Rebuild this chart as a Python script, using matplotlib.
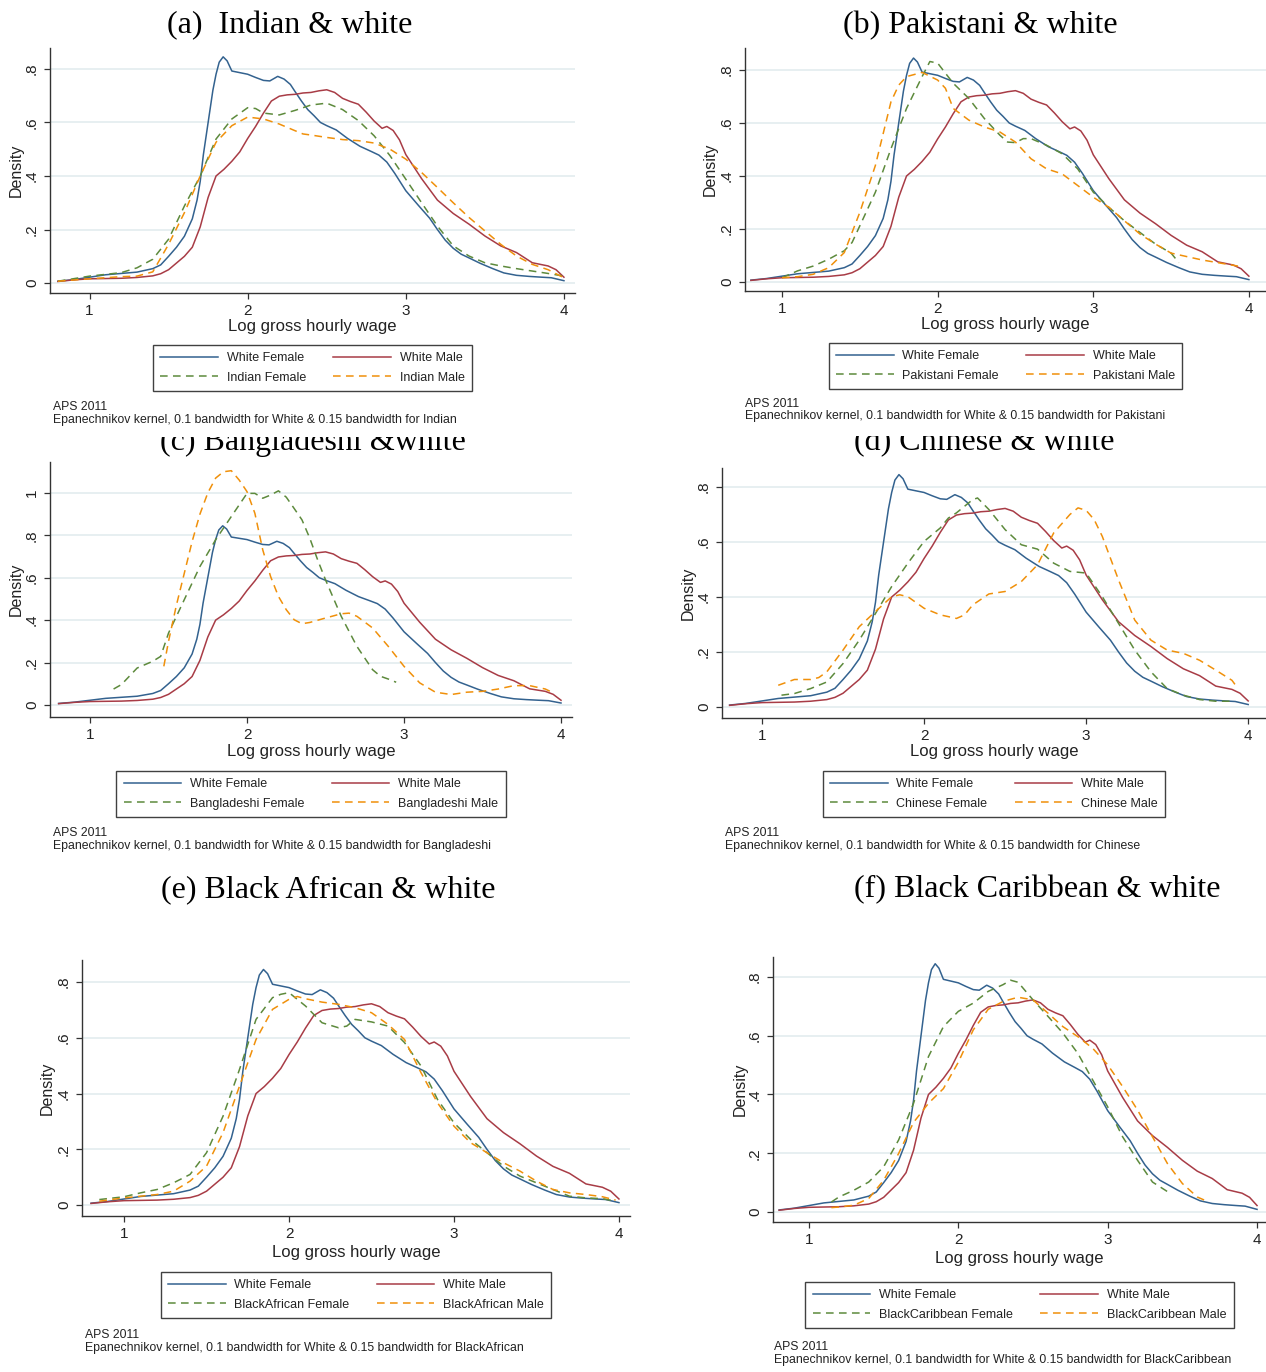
import matplotlib
matplotlib.use("Agg")
import matplotlib.pyplot as plt
from matplotlib.transforms import Bbox, TransformedBbox

W, H = 1266, 1372
plt.rcParams['font.family'] = 'Liberation Sans'

# ---- shared white curves ----
wf_x = [0.80, 0.90, 1.00, 1.10, 1.20, 1.30, 1.40, 1.45, 1.50, 1.55, 1.60, 1.65, 1.68, 1.70, 1.72,
        1.74, 1.76, 1.78, 1.80, 1.82, 1.845, 1.87, 1.90, 1.95, 2.00, 2.05, 2.10, 2.14, 2.19, 2.23,
        2.27, 2.30, 2.34, 2.38, 2.42, 2.46, 2.50, 2.56, 2.63, 2.71, 2.78, 2.83, 2.88, 2.93, 3.00,
        3.08, 3.15, 3.20, 3.25, 3.30, 3.35, 3.40, 3.47, 3.55, 3.62, 3.70, 3.78, 3.86, 3.92, 4.00]
wf_y = [0.007, 0.013, 0.022, 0.031, 0.036, 0.041, 0.054, 0.068, 0.10, 0.134, 0.175, 0.24, 0.31, 0.38, 0.48,
        0.56, 0.64, 0.72, 0.78, 0.825, 0.845, 0.83, 0.792, 0.786, 0.78, 0.768, 0.757, 0.755, 0.772, 0.762,
        0.742, 0.715, 0.68, 0.648, 0.625, 0.60, 0.588, 0.572, 0.541, 0.511, 0.492, 0.478, 0.452, 0.41, 0.345,
        0.29, 0.243, 0.20, 0.16, 0.13, 0.108, 0.094, 0.074, 0.054, 0.038, 0.029, 0.025, 0.022, 0.02, 0.009]

wm_x = [0.80, 0.90, 1.00, 1.10, 1.20, 1.30, 1.40, 1.45, 1.50, 1.55, 1.60, 1.65, 1.70, 1.75, 1.80,
        1.85, 1.90, 1.95, 2.00, 2.05, 2.10, 2.15, 2.20, 2.25, 2.30, 2.35, 2.40, 2.45, 2.50, 2.55,
        2.60, 2.65, 2.70, 2.75, 2.80, 2.85, 2.88, 2.92, 2.96, 3.00, 3.05, 3.10, 3.20, 3.30, 3.40,
        3.50, 3.60, 3.70, 3.75, 3.80, 3.90, 3.95, 4.00]
wm_y = [0.006, 0.012, 0.016, 0.017, 0.018, 0.021, 0.027, 0.035, 0.05, 0.075, 0.10, 0.134, 0.21, 0.32, 0.40,
        0.425, 0.455, 0.49, 0.54, 0.585, 0.635, 0.68, 0.698, 0.703, 0.705, 0.71, 0.712, 0.718, 0.722, 0.712,
        0.69, 0.678, 0.668, 0.638, 0.605, 0.578, 0.585, 0.57, 0.535, 0.48, 0.435, 0.39, 0.31, 0.26, 0.22,
        0.176, 0.139, 0.114, 0.095, 0.076, 0.064, 0.05, 0.022]

# ---- ethnic group curves ----
ind_f_x = [0.8, 1.0, 1.2, 1.3, 1.4, 1.5, 1.6, 1.7, 1.8, 1.9, 2.0, 2.05, 2.1, 2.2, 2.3, 2.4, 2.5, 2.6,
           2.7, 2.8, 2.9, 3.0, 3.1, 3.2, 3.3, 3.4, 3.5, 3.6, 3.7, 3.8, 3.9, 4.0]
ind_f_y = [0.007, 0.026, 0.039, 0.057, 0.089, 0.164, 0.288, 0.40, 0.538, 0.613, 0.655, 0.652, 0.635, 0.628,
           0.645, 0.665, 0.672, 0.648, 0.607, 0.55, 0.476, 0.388, 0.30, 0.213, 0.139, 0.101, 0.076, 0.064,
           0.054, 0.045, 0.036, 0.026]
ind_m_x = [0.8, 1.0, 1.2, 1.3, 1.4, 1.5, 1.6, 1.7, 1.8, 1.9, 2.0, 2.1, 2.2, 2.3, 2.35, 2.4, 2.5, 2.6,
           2.7, 2.8, 2.9, 3.0, 3.1, 3.2, 3.3, 3.4, 3.5, 3.6, 3.7, 3.8, 3.9, 4.0]
ind_m_y = [0.007, 0.016, 0.024, 0.026, 0.042, 0.145, 0.263, 0.40, 0.526, 0.588, 0.62, 0.613, 0.594, 0.569,
           0.557, 0.553, 0.544, 0.536, 0.532, 0.523, 0.50, 0.463, 0.413, 0.357, 0.30, 0.245, 0.195, 0.145,
           0.101, 0.07, 0.05, 0.02]

pak_f_x = [1.0, 1.1, 1.2, 1.3, 1.4, 1.45, 1.5, 1.6, 1.7, 1.8, 1.9, 1.95, 2.0, 2.1, 2.2, 2.3, 2.4, 2.45,
           2.5, 2.55, 2.6, 2.7, 2.8, 2.9, 3.0, 3.1, 3.2, 3.3, 3.4, 3.5, 3.55]
pak_f_y = [0.016, 0.042, 0.06, 0.086, 0.118, 0.149, 0.212, 0.339, 0.503, 0.655, 0.775, 0.832, 0.826, 0.75,
           0.693, 0.617, 0.554, 0.528, 0.526, 0.541, 0.541, 0.516, 0.484, 0.427, 0.339, 0.282, 0.231, 0.187,
           0.143, 0.109, 0.073]
pak_m_x = [1.0, 1.1, 1.2, 1.3, 1.4, 1.5, 1.6, 1.7, 1.75, 1.8, 1.9, 2.0, 2.05, 2.1, 2.2, 2.3, 2.4, 2.5,
           2.6, 2.7, 2.8, 2.9, 3.0, 3.1, 3.2, 3.3, 3.4, 3.5, 3.6, 3.7, 3.8, 3.9, 3.93]
pak_m_y = [0.016, 0.02, 0.029, 0.054, 0.111, 0.263, 0.44, 0.68, 0.743, 0.775, 0.791, 0.762, 0.731, 0.655,
           0.611, 0.585, 0.566, 0.528, 0.465, 0.427, 0.408, 0.364, 0.32, 0.282, 0.231, 0.181, 0.143, 0.109,
           0.096, 0.083, 0.073, 0.063, 0.06]

ban_f_x = [1.15, 1.2, 1.3, 1.4, 1.45, 1.5, 1.6, 1.7, 1.8, 1.9, 2.0, 2.05, 2.1, 2.15, 2.2, 2.25, 2.3,
           2.35, 2.4, 2.45, 2.5, 2.6, 2.7, 2.8, 2.85, 2.9, 2.95]
ban_f_y = [0.075, 0.096, 0.174, 0.206, 0.229, 0.339, 0.496, 0.653, 0.779, 0.889, 0.998, 0.998, 0.975, 0.99,
           1.01, 0.98, 0.927, 0.873, 0.786, 0.684, 0.59, 0.418, 0.276, 0.166, 0.135, 0.122, 0.107]
ban_m_x = [1.47, 1.5, 1.55, 1.6, 1.65, 1.7, 1.75, 1.8, 1.85, 1.9, 1.95, 2.0, 2.05, 2.1, 2.15, 2.2, 2.25,
           2.3, 2.35, 2.4, 2.5, 2.6, 2.65, 2.7, 2.8, 2.9, 3.0, 3.1, 3.2, 3.3, 3.4, 3.5, 3.6, 3.7, 3.8, 3.9, 3.95]
ban_m_y = [0.182, 0.30, 0.47, 0.62, 0.77, 0.90, 1.0, 1.07, 1.1, 1.105, 1.061, 1.006, 0.904, 0.732, 0.606,
           0.512, 0.449, 0.402, 0.383, 0.389, 0.41, 0.43, 0.433, 0.418, 0.363, 0.276, 0.182, 0.104, 0.06,
           0.049, 0.06, 0.064, 0.075, 0.091, 0.091, 0.075, 0.057]

chi_f_x = [1.12, 1.2, 1.3, 1.4, 1.5, 1.6, 1.7, 1.8, 1.9, 2.0, 2.1, 2.15, 2.2, 2.3, 2.33, 2.4, 2.5, 2.6,
           2.7, 2.8, 2.9, 3.0, 3.1, 3.2, 3.3, 3.4, 3.5, 3.6, 3.7, 3.8, 3.9]
chi_f_y = [0.043, 0.049, 0.067, 0.091, 0.158, 0.243, 0.34, 0.438, 0.523, 0.602, 0.651, 0.687, 0.706, 0.754,
           0.76, 0.718, 0.645, 0.59, 0.574, 0.523, 0.493, 0.487, 0.401, 0.304, 0.207, 0.128, 0.067, 0.043,
           0.027, 0.021, 0.021]
chi_m_x = [1.1, 1.2, 1.3, 1.35, 1.4, 1.5, 1.6, 1.7, 1.8, 1.85, 1.9, 2.0, 2.1, 2.2, 2.25, 2.3, 2.4, 2.5,
           2.6, 2.7, 2.8, 2.9, 2.95, 3.0, 3.05, 3.1, 3.2, 3.3, 3.4, 3.5, 3.6, 3.7, 3.8, 3.9, 3.93]
chi_m_y = [0.079, 0.1, 0.1, 0.107, 0.128, 0.207, 0.292, 0.347, 0.401, 0.408, 0.401, 0.359, 0.335, 0.322,
           0.335, 0.371, 0.411, 0.42, 0.456, 0.517, 0.633, 0.70, 0.724, 0.715, 0.681, 0.62, 0.462, 0.316,
           0.243, 0.207, 0.195, 0.17, 0.134, 0.097, 0.073]

ba_f_x = [0.85, 1.0, 1.1, 1.2, 1.3, 1.4, 1.5, 1.6, 1.7, 1.8, 1.9, 1.95, 2.0, 2.1, 2.2, 2.3, 2.35, 2.4,
          2.5, 2.6, 2.7, 2.8, 2.9, 3.0, 3.1, 3.2, 3.3, 3.4, 3.5, 3.6, 3.7, 3.8, 3.9, 3.98]
ba_f_y = [0.02, 0.03, 0.044, 0.056, 0.08, 0.11, 0.188, 0.319, 0.487, 0.666, 0.744, 0.756, 0.762, 0.714,
          0.654, 0.636, 0.642, 0.666, 0.657, 0.642, 0.583, 0.499, 0.379, 0.295, 0.236, 0.188, 0.14, 0.104,
          0.08, 0.056, 0.032, 0.026, 0.023, 0.014]
ba_m_x = [0.85, 1.0, 1.2, 1.3, 1.4, 1.5, 1.6, 1.7, 1.8, 1.9, 2.0, 2.05, 2.1, 2.2, 2.3, 2.4, 2.5, 2.6,
          2.7, 2.8, 2.9, 3.0, 3.1, 3.2, 3.3, 3.4, 3.5, 3.6, 3.7, 3.8, 3.9, 3.98]
ba_m_y = [0.014, 0.026, 0.038, 0.05, 0.086, 0.14, 0.26, 0.427, 0.594, 0.702, 0.738, 0.748, 0.74, 0.728,
          0.72, 0.708, 0.69, 0.648, 0.594, 0.475, 0.367, 0.283, 0.224, 0.188, 0.152, 0.122, 0.086, 0.056,
          0.044, 0.038, 0.03, 0.018]

bc_f_x = [1.15, 1.2, 1.3, 1.4, 1.5, 1.6, 1.7, 1.8, 1.9, 2.0, 2.1, 2.2, 2.3, 2.35, 2.4, 2.5, 2.6, 2.7,
          2.8, 2.9, 3.0, 3.1, 3.2, 3.3, 3.42]
bc_f_y = [0.034, 0.051, 0.074, 0.102, 0.154, 0.245, 0.37, 0.529, 0.631, 0.683, 0.711, 0.751, 0.774, 0.789,
          0.782, 0.722, 0.666, 0.609, 0.54, 0.449, 0.358, 0.256, 0.176, 0.102, 0.063]
bc_m_x = [1.15, 1.2, 1.3, 1.4, 1.5, 1.6, 1.7, 1.8, 1.9, 2.0, 2.1, 2.2, 2.3, 2.4, 2.5, 2.6, 2.7, 2.8,
          2.9, 3.0, 3.1, 3.2, 3.3, 3.4, 3.5, 3.6, 3.65]
bc_m_y = [0.015, 0.017, 0.023, 0.046, 0.108, 0.199, 0.305, 0.37, 0.42, 0.51, 0.62, 0.69, 0.717, 0.731,
          0.722, 0.677, 0.631, 0.597, 0.557, 0.501, 0.427, 0.347, 0.256, 0.165, 0.097, 0.051, 0.04]

groups = ["Indian", "Pakistani", "Bangladeshi", "Chinese", "BlackAfrican", "BlackCaribbean"]
titles = ["(a)  Indian & white", "(b) Pakistani & white", "(c) Bangladeshi &white",
          "(d) Chinese & white", "(e) Black African & white", "(f) Black Caribbean & white"]
female_x = [ind_f_x, pak_f_x, ban_f_x, chi_f_x, ba_f_x, bc_f_x]
female_y = [ind_f_y, pak_f_y, ban_f_y, chi_f_y, ba_f_y, bc_f_y]
male_x = [ind_m_x, pak_m_x, ban_m_x, chi_m_x, ba_m_x, bc_m_x]
male_y = [ind_m_y, pak_m_y, ban_m_y, chi_m_y, ba_m_y, bc_m_y]
ytick_vals = [[0, .2, .4, .6, .8]] * 2 + [[0, .2, .4, .6, .8, 1]] + [[0, .2, .4, .6, .8]] * 3
ytick_text = [["0", ".2", ".4", ".6", ".8"]] * 2 + [["0", ".2", ".4", ".6", ".8", "1"]] + \
             [["0", ".2", ".4", ".6", ".8"]] * 3

# ---- layout (pixels) ----
boxes = [(50, 48, 575, 293), (745, 48, 1266, 291), (50, 462, 572, 717),
         (722, 468, 1266, 718), (82, 960, 630, 1216), (773, 957, 1266, 1222)]
xlims = [(0.75, 4.07), (0.762, 4.11), (0.745, 4.07), (0.753, 4.11), (0.745, 4.067), (0.759, 4.06)]
ylims = [(-0.037, 0.878), (-0.034, 0.883), (-0.057, 1.146), (-0.04, 0.869), (-0.039, 0.879), (-0.034, 0.868)]
# title baseline positions
title_pos = [(290, 33), (980, 33), (313, 450), (984, 450), (328, 897), (1037, 897)]
title_clip = [None, None, 437, 436, None, None]
ylab_x = [16, 710, 16, 688, 47, 740]
xlab_y = [327, 325, 751, 751, 1252, 1259]
leg_y = [368, 366, 794, 794, 1295, 1305]
note_pos = [(53, 407), (745, 404), (53, 833), (725, 833), (85, 1335), (774, 1347)]

c_wf, c_wm, c_ef, c_em = '#33628f', '#a83c46', '#5d8a3c', '#f0900a'

fig = plt.figure(figsize=(W / 100, H / 100), dpi=100)

for i in range(6):
    l, t, r, b = boxes[i]
    ax = fig.add_axes([l / W, 1 - b / H, (r - l) / W, (b - t) / H])
    g = groups[i]
    h1, = ax.plot(wf_x, wf_y, color=c_wf, lw=1.1, label='White Female')
    h2, = ax.plot(wm_x, wm_y, color=c_wm, lw=1.1, label='White Male')
    h3, = ax.plot(female_x[i], female_y[i], color=c_ef, lw=1.1, dashes=(5, 3.5), label=g + ' Female')
    h4, = ax.plot(male_x[i], male_y[i], color=c_em, lw=1.1, dashes=(5, 3.5), label=g + ' Male')
    ax.set_xlim(*xlims[i])
    ax.set_ylim(*ylims[i])
    ax.set_xticks([1, 2, 3, 4])
    ax.set_xticklabels(['1', '2', '3', '4'])
    ax.set_yticks(ytick_vals[i])
    ax.set_yticklabels(ytick_text[i], rotation=90, va='center')
    ax.grid(axis='y', color='#e5eef0', lw=1.3)
    ax.set_axisbelow(True)
    for s in ['top', 'right']:
        ax.spines[s].set_visible(False)
    for s in ['left', 'bottom']:
        ax.spines[s].set_color('#333333')
        ax.spines[s].set_linewidth(1.0)
    ax.tick_params(direction='out', length=4, width=0.9, color='#333333', labelsize=11, pad=4,
                   labelcolor='#222222')
    ax.set_ylabel('Density', fontsize=11.5, va='center', color='#222222')
    ax.yaxis.set_label_coords(ylab_x[i] / W, 1 - ((t + b) / 2) / H, transform=fig.transFigure)
    ax.set_xlabel('Log gross hourly wage', fontsize=12, va='center', color='#222222')
    ax.xaxis.set_label_coords(((l + r) / 2) / W, 1 - xlab_y[i] / H, transform=fig.transFigure)

    leg = ax.legend([h1, h3, h2, h4], [h1.get_label(), h3.get_label(), h2.get_label(), h4.get_label()],
                    ncol=2, loc='center', bbox_to_anchor=(((l + r) / 2) / W, 1 - leg_y[i] / H),
                    bbox_transform=fig.transFigure, fontsize=9, frameon=True, fancybox=False,
                    edgecolor='#111111', handlelength=4.6, handletextpad=0.7, columnspacing=2.2,
                    borderpad=0.6, labelspacing=0.6)
    leg.get_frame().set_linewidth(1.0)
    for txt in leg.get_texts():
        txt.set_color('#222222')

    tx, ty = title_pos[i]
    tt = fig.text(tx / W, 1 - ty / H, titles[i], fontsize=23, family='Liberation Serif',
                  ha='center', va='baseline', color='black')
    if title_clip[i] is not None:
        cb = TransformedBbox(Bbox([[0, 0], [1, 1 - title_clip[i] / H]]), fig.transFigure)
        tt.set_clip_on(True)
        tt.set_clip_box(cb)

    nx, ny = note_pos[i]
    fig.text(nx / W, 1 - ny / H, 'APS 2011', fontsize=8.8, va='center', color='#222222')
    fig.text(nx / W, 1 - (ny + 12.5) / H,
             'Epanechnikov kernel, 0.1 bandwidth for White & 0.15 bandwidth for ' + g,
             fontsize=8.8, va='center', color='#222222')

fig.savefig('out.png', dpi=100)
